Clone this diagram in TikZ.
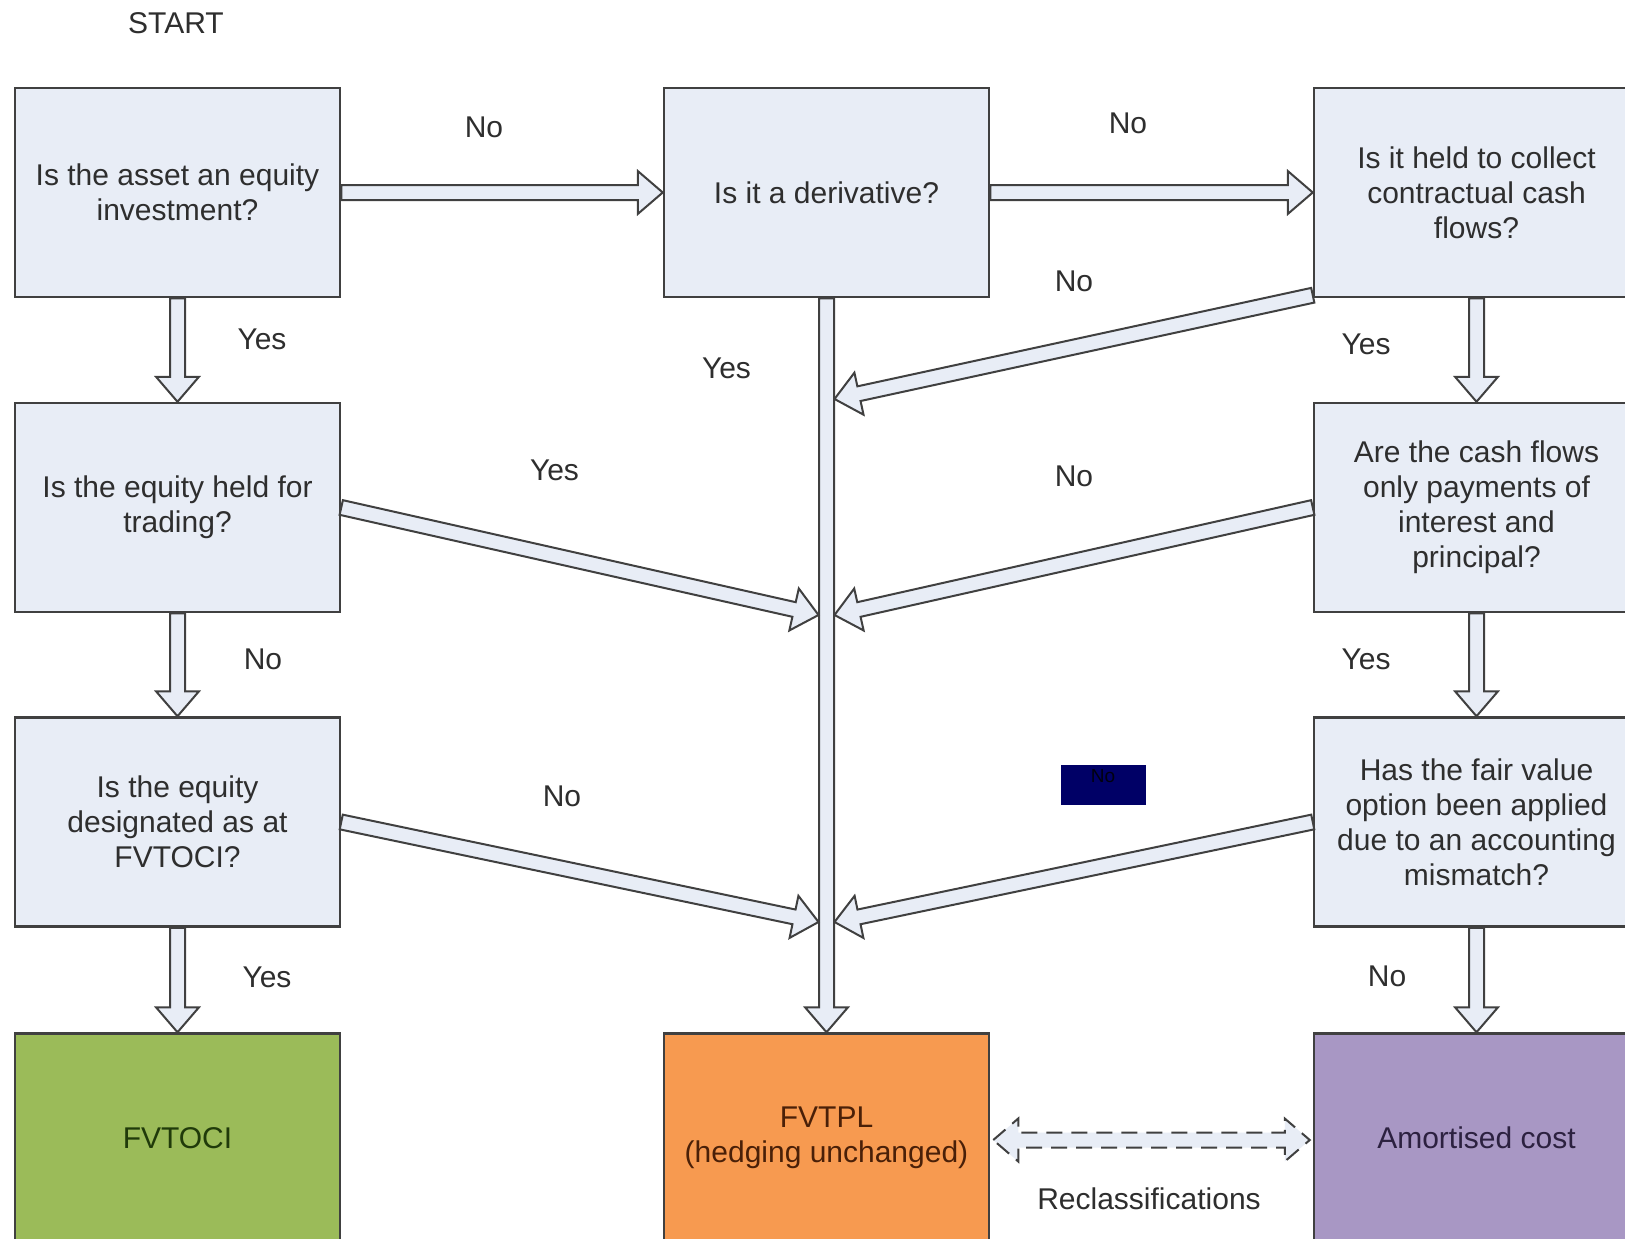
\documentclass[tikz,border=0pt]{standalone}
\usepackage{fontspec}
\setmainfont{Liberation Sans}
\usetikzlibrary{calc}
\definecolor{boxfill}{HTML}{E8EDF6}
\definecolor{boxline}{HTML}{404040}
\definecolor{txt}{HTML}{2E2E2E}
\definecolor{gfill}{HTML}{9BBB59}
\definecolor{ofill}{HTML}{F79A50}
\definecolor{pfill}{HTML}{A897C4}
\definecolor{gtxt}{HTML}{203A0A}
\definecolor{otxt}{HTML}{4A2008}
\definecolor{ptxt}{HTML}{2C2140}
\definecolor{navy}{HTML}{000066}
\def\sw{7.5pt}\def\bw{14pt}\def\hw{21.5pt}\def\hl{25pt}
\newcommand\blockarrow[3][]{%
  \filldraw[barrow,#1] let \p1=#2, \p2=#3,
    \n1={atan2(\y2-\y1,\x2-\x1)}, \n2={veclen(\x2-\x1,\y2-\y1)}, \n3={\n2-\hl} in
    ($(\p1)+(\n1+90:\sw)$) -- ++(\n1:\n3) -- ++(\n1+90:\bw) -- (\p2)
    -- ($(\p1)+(\n1:\n3)+(\n1-90:\hw)$) -- ++(\n1+90:\bw)
    -- ($(\p1)+(\n1-90:\sw)$) -- cycle;}
\newcommand\dblblockarrow[3][]{%
  \filldraw[barrow,#1] let \p1=#2, \p2=#3,
    \n1={atan2(\y2-\y1,\x2-\x1)}, \n2={veclen(\x2-\x1,\y2-\y1)}, \n3={\n2-\hl} in
    (\p1) -- ($(\p1)+(\n1:\hl)+(\n1+90:\hw)$) -- ++(\n1-90:\bw)
    -- ($(\p1)+(\n1:\n3)+(\n1+90:\sw)$) -- ++(\n1+90:\bw) -- (\p2)
    -- ($(\p1)+(\n1:\n3)+(\n1-90:\hw)$) -- ++(\n1+90:\bw)
    -- ($(\p1)+(\n1:\hl)+(\n1-90:\sw)$) -- ++(\n1-90:\bw) -- cycle;}
\tikzset{
  qbox/.style={draw=boxline, line width=2.5pt, fill=boxfill, minimum width=325pt,
    minimum height=209pt, align=center, text=txt, inner sep=0pt},
  lbl/.style={text=txt, inner sep=0pt},
  barrow/.style={draw=boxline, fill=boxfill, line width=2pt, line join=miter}
}
\begin{document}
\begin{tikzpicture}[x=1pt,y=-1pt,font=\fontsize{30}{35}\selectfont]
\useasboundingbox (0,0) rectangle (1625,1239);
\clip (0,0) rectangle (1625,1239);
\fill[white] (0,0) rectangle (1625,1239);

\node[lbl] (start) at (176,23) {START};

\node[qbox] (q1) at (177.5,192.5) {Is the asset an equity\\investment?};
\node[qbox] (q2) at (826.5,192.5) {Is it a derivative?};
\node[qbox] (q3) at (1476.5,192.5) {Is it held to collect\\contractual cash\\flows?};
\node[qbox] (q4) at (177.5,507.5) {Is the equity held for\\trading?};
\node[qbox] (q5) at (1476.5,507.5) {Are the cash flows\\only payments of\\interest and\\principal?};
\node[qbox] (q6) at (177.5,822) {Is the equity\\designated as at\\FVTOCI?};
\node[qbox] (q7) at (1476.5,822) {Has the fair value\\option been applied\\due to an accounting\\mismatch?};
\node[qbox, fill=gfill, text=gtxt] (r1) at (177.5,1138) {FVTOCI};
\node[qbox, fill=ofill, text=otxt] (r2) at (826.5,1138) {FVTPL\\(hedging unchanged)};
\node[qbox, fill=pfill, text=ptxt] (r3) at (1476.5,1138) {Amortised cost};

\coordinate (t1) at (834.5,399);
\coordinate (t2) at (818.5,615);
\coordinate (t3) at (834.5,615);
\coordinate (t4) at (818.5,922);
\coordinate (t5) at (834.5,922);

\blockarrow{(q1.east)}{(q2.west)}
\blockarrow{(q2.east)}{(q3.west)}
\blockarrow{(q1.south)}{(q4.north)}
\blockarrow{(q4.south)}{(q6.north)}
\blockarrow{(q6.south)}{(r1.north)}
\blockarrow{(q3.south)}{(q5.north)}
\blockarrow{(q5.south)}{(q7.north)}
\blockarrow{(q7.south)}{(r3.north)}
\blockarrow{(q2.south)}{(r2.north)}
\blockarrow{($(q3.south west)+(0,-3)$)}{(t1)}
\blockarrow{(q4.east)}{(t2)}
\blockarrow{(q5.west)}{(t3)}
\blockarrow{(q6.east)}{(t4)}
\blockarrow{(q7.west)}{(t5)}
\dblblockarrow[dashed, dash pattern=on 16pt off 9pt]{($(r2.east)+(3,2)$)}{($(r3.west)+(-3,2)$)}

\node[lbl] (n1) at (484,127.5) {No};
\node[lbl] (n2) at (1128,123) {No};
\node[lbl] (y1) at (262,339) {Yes};
\node[lbl] (y2) at (726.5,368) {Yes};
\node[lbl] (n3) at (1074,281) {No};
\node[lbl] (y3) at (1366,344) {Yes};
\node[lbl] (y4) at (554.5,470.5) {Yes};
\node[lbl] (n4) at (1074,476) {No};
\node[lbl] (n5) at (263,659) {No};
\node[lbl] (y5) at (1366,659) {Yes};
\node[lbl] (n6) at (562,796) {No};
\node[lbl] (y6) at (267,977) {Yes};
\node[lbl] (n7) at (1387,976) {No};
\node[lbl] (recl) at (1149,1199) {Reclassifications};

\node[fill=navy, minimum width=85pt, minimum height=40pt, inner sep=0pt] (nobox) at (1103,784.5) {};
\node[inner sep=0pt, text=black!85!navy, font=\fontsize{19}{22}\selectfont] (nolbl) at (1103,776) {No};
\end{tikzpicture}
\end{document}
